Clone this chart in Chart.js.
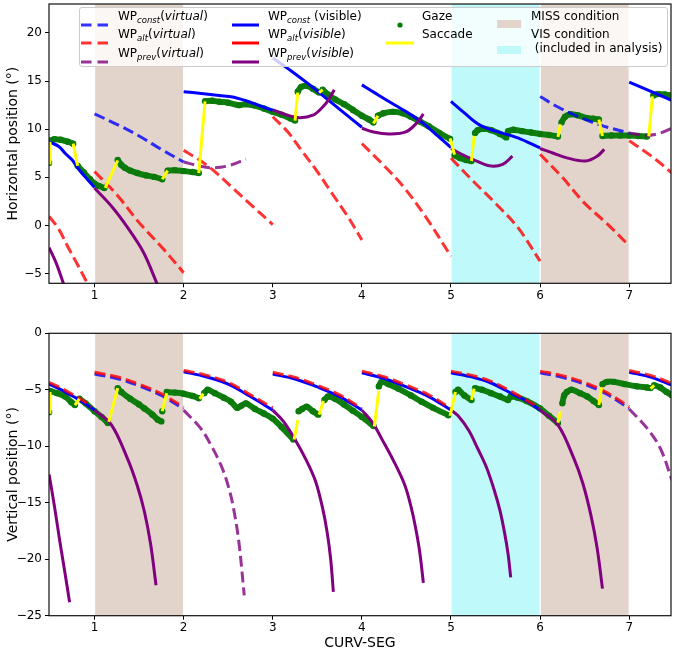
<!DOCTYPE html>
<html>
<head>
<meta charset="utf-8">
<script src="https://cdn.jsdelivr.net/npm/chart.js@4.4.1/dist/chart.umd.min.js"></script>
<style>
  body { margin: 0; background: #fff; width: 675px; height: 650px; overflow: hidden; position: relative;
         font-family: "DejaVu Sans", sans-serif; }
  canvas { position: absolute; left: 0; }
  #legend { position: absolute; left: 0; top: 0; width: 675px; height: 70px; pointer-events: none; }
  .lg-box { position: absolute; left: 79px; top: 6.5px; width: 589px; height: 60px; box-sizing: border-box;
            border: 1px solid #cccccc; border-radius: 3px; background: rgba(255,255,255,0.8); }
  .lg-text { position: absolute; font-size: 12px; line-height: 18px; white-space: pre; color: #000; }
  .lg-text sub { font-size: 8.5px; font-style: italic; vertical-align: -2.5px; line-height: 0; }
  .lg-handle { position: absolute; }
</style>
</head>
<body>
<canvas id="topChart" width="675" height="300" style="top:0"></canvas>
<canvas id="bottomChart" width="675" height="332" style="top:318px"></canvas>
<div id="legend"><div class="lg-box"></div></div>
<script>
// ---- shared axis data ----
const xTicks = [1, 2, 3, 4, 5, 6, 7];
const hTicks = [-5, 0, 5, 10, 15, 20];
const vTicks = [-25, -20, -15, -10, -5, 0];
const missSegs = [[1, 2], [6, 7]];
const visSegs = [[5, 6]];

// ---- horizontal position (top panel), segments of [CURV-SEG, deg] ----
const hConstVisible = [
  [[0.49, 8.7], [0.6, 8.2], [0.67, 7.5], [0.75, 6.8], [0.81, 6.0], [0.9, 5.0], [1.0, 3.95]],
  [[2.0, 13.9], [2.2, 13.7], [2.4, 13.5], [2.55, 13.35], [2.7, 12.95], [2.85, 12.45], [3.0, 11.95]],
  [[3.0, 17.4], [3.2, 16.1], [3.4, 14.7], [3.6, 13.2], [3.8, 11.7], [4.0, 10.2]],
  [[4.0, 14.6], [4.14, 13.8], [4.28, 13.0], [4.5, 11.8], [4.69, 10.6], [4.85, 9.3], [5.0, 8.1]],
  [[5.0, 12.9], [5.15, 11.7], [5.32, 10.45], [5.5, 9.8], [5.75, 9.1], [6.0, 8.05]],
  [[7.0, 14.9], [7.25, 13.9], [7.5, 12.9]]
];
const hConstVirtual = [
  [[1.0, 11.6], [1.25, 10.5], [1.5, 9.3], [1.75, 7.9], [2.0, 6.6]],
  [[6.0, 13.4], [6.2, 12.3], [6.38, 11.5], [6.55, 10.85], [6.72, 10.3], [7.0, 9.6]]
];
const hAltVirtual = [
  [[0.49, 0.95], [0.6, -0.4], [0.7, -2.2], [0.8, -3.9], [0.92, -6.0], [0.95, -6.6]],
  [[1.0, 5.6], [1.25, 3.2], [1.5, 0.3], [1.75, -2.2], [2.0, -4.9]],
  [[2.0, 7.8], [2.17, 6.85], [2.35, 5.6], [2.55, 3.9], [2.75, 2.2], [3.0, 0.1]],
  [[3.0, 11.3], [3.17, 9.7], [3.33, 7.7], [3.5, 5.6], [3.66, 3.4], [3.83, 1.1], [4.0, -1.5]],
  [[4.0, 8.5], [4.24, 6.3], [4.46, 4.1], [4.72, 0.85], [5.0, -3.2]],
  [[5.0, 7.0], [5.25, 4.6], [5.5, 2.3], [5.75, -0.2], [6.0, -3.7]],
  [[6.0, 7.4], [6.25, 5.0], [6.49, 2.4], [6.75, 0.2], [7.0, -2.1]],
  [[7.0, 8.8], [7.25, 7.2], [7.5, 5.3]]
];
const hPrevVisible = [
  [[0.49, -2.3], [0.57, -3.9], [0.65, -6.0], [0.67, -6.6]],
  [[1.0, 3.9], [1.2, 1.9], [1.37, -0.2], [1.55, -2.8], [1.7, -6.0], [1.72, -6.4]],
  [[3.0, 12.0], [3.15, 11.5], [3.3, 11.2], [3.45, 11.45], [3.55, 12.2], [3.63, 13.1], [3.69, 14.1]],
  [[4.0, 10.1], [4.13, 9.7], [4.31, 9.5], [4.5, 9.75], [4.63, 10.8], [4.69, 11.6]],
  [[5.0, 8.0], [5.12, 7.4], [5.25, 6.85], [5.43, 6.2], [5.58, 6.35], [5.69, 7.2]],
  [[6.0, 8.0], [6.15, 7.5], [6.31, 7.0], [6.51, 6.7], [6.64, 7.2], [6.72, 7.9]]
];
const hPrevVirtual = [
  [[2.0, 6.6], [2.17, 6.2], [2.32, 6.0], [2.5, 6.2], [2.7, 6.9]],
  [[7.0, 9.6], [7.2, 9.35], [7.35, 9.6], [7.5, 10.2]]
];
const hGaze = [
  [[0.49, 6.5]],
  [[0.5, 8.8], [0.55, 8.95], [0.62, 8.9], [0.7, 8.7], [0.76, 8.5]],
  [[0.81, 6.2], [0.88, 5.5], [0.95, 4.8], [1.0, 4.35], [1.05, 4.1], [1.11, 3.9]],
  [[1.26, 6.8], [1.3, 6.3], [1.34, 6.0], [1.4, 5.7], [1.48, 5.45], [1.58, 5.2], [1.67, 5.05], [1.76, 4.8]],
  [[1.82, 5.7], [1.9, 5.75], [2.0, 5.65], [2.1, 5.55], [2.17, 5.45]],
  [[2.24, 12.9], [2.32, 12.95], [2.4, 12.85], [2.5, 12.75], [2.62, 12.5], [2.7, 12.6], [2.8, 12.45],
   [2.9, 12.15], [3.0, 11.8], [3.1, 11.5], [3.2, 11.1], [3.25, 10.9]],
  [[3.28, 13.9], [3.32, 14.4], [3.38, 14.5], [3.45, 14.2], [3.52, 13.8]],
  [[3.56, 14.1], [3.62, 13.6], [3.7, 13.1], [3.8, 12.6], [3.9, 12.0], [4.0, 11.4], [4.08, 11.0], [4.13, 10.7]],
  [[4.18, 11.4], [4.24, 11.65], [4.35, 11.8], [4.46, 11.65], [4.55, 11.3], [4.65, 10.8], [4.75, 10.3],
   [4.87, 9.6], [4.99, 9.0]],
  [[5.04, 7.3], [5.1, 7.0], [5.17, 6.8], [5.23, 6.7]],
  [[5.27, 9.6], [5.3, 9.9], [5.37, 10.05], [5.45, 9.9], [5.55, 9.5], [5.62, 9.15]],
  [[5.64, 9.8], [5.7, 9.95], [5.8, 9.8], [5.9, 9.65], [6.0, 9.5], [6.1, 9.4], [6.2, 9.25]],
  [[6.24, 10.7], [6.28, 11.3], [6.34, 11.55], [6.42, 11.45], [6.53, 11.15], [6.6, 11.1], [6.66, 11.0]],
  [[6.7, 9.3], [6.8, 9.35], [6.9, 9.35], [7.0, 9.35], [7.1, 9.3], [7.2, 9.25]],
  [[7.27, 13.5], [7.32, 13.65], [7.4, 13.6], [7.47, 13.5]]
];
const hSaccades = [
  [[0.49, 6.5], [0.5, 8.7]], [[0.76, 8.5], [0.81, 6.2]], [[1.12, 3.9], [1.26, 6.75]],
  [[1.76, 4.8], [1.82, 5.7]], [[2.17, 5.45], [2.24, 12.9]], [[3.25, 10.9], [3.28, 13.8]],
  [[3.52, 13.8], [3.56, 14.1]], [[4.13, 10.6], [4.18, 11.4]], [[4.99, 9.05], [5.04, 7.35]],
  [[5.23, 6.7], [5.26, 9.3]], [[6.2, 9.2], [6.23, 10.5]], [[6.66, 11.0], [6.7, 9.3]],
  [[7.22, 9.25], [7.26, 13.4]]
];

// ---- vertical position (bottom panel) ----
const vConstVisible = [
  [[0.49, -4.5], [0.6, -4.9], [0.74, -5.5], [0.87, -6.1], [1.0, -6.8]],
  [[2.0, -3.4], [2.25, -3.85], [2.5, -4.5], [2.75, -5.6], [3.0, -6.8]],
  [[3.0, -3.6], [3.25, -4.05], [3.5, -4.75], [3.75, -5.6], [4.0, -6.8]],
  [[4.0, -3.5], [4.25, -4.0], [4.5, -4.75], [4.75, -5.6], [5.0, -6.8]],
  [[5.0, -3.5], [5.25, -3.9], [5.45, -4.4], [5.71, -5.45], [5.85, -6.0], [6.0, -6.8]],
  [[7.0, -3.45], [7.25, -3.9], [7.5, -4.65]]
];
const vConstVirtual = [
  [[1.0, -3.6], [1.25, -4.0], [1.5, -4.65], [1.75, -5.5], [2.0, -6.7]],
  [[6.0, -3.5], [6.25, -3.9], [6.53, -4.6], [6.75, -5.4], [7.0, -6.65]]
];
const vAltVirtual = [
  [[0.49, -4.35], [0.6, -4.75], [0.74, -5.35], [0.87, -5.95], [0.97, -6.5]],
  [[1.0, -3.45], [1.25, -3.85], [1.5, -4.5], [1.75, -5.35], [2.0, -6.55]],
  [[2.0, -3.3], [2.25, -3.7], [2.5, -4.35], [2.75, -5.45], [3.0, -6.6]],
  [[3.0, -3.45], [3.25, -3.9], [3.5, -4.6], [3.75, -5.45], [4.0, -6.65]],
  [[4.0, -3.35], [4.25, -3.85], [4.5, -4.6], [4.75, -5.45], [5.0, -6.65]],
  [[5.0, -3.35], [5.25, -3.75], [5.45, -4.25], [5.71, -5.3], [6.0, -6.65]],
  [[6.0, -3.35], [6.25, -3.75], [6.53, -4.45], [6.75, -5.25], [7.0, -6.5]],
  [[7.0, -3.3], [7.25, -3.75], [7.5, -4.5]]
];
const vPrevVisible = [
  [[0.49, -12.5], [0.55, -15.3], [0.61, -18.4], [0.67, -21.3], [0.72, -23.8]],
  [[1.0, -6.8], [1.19, -8.1], [1.37, -11.1], [1.48, -13.5], [1.56, -15.8], [1.63, -18.7], [1.69, -22.3]],
  [[3.0, -6.8], [3.12, -7.8], [3.25, -9.4], [3.38, -11.3], [3.48, -13.1], [3.56, -15.5], [3.61, -17.6],
   [3.65, -20.0], [3.68, -22.9]],
  [[4.0, -6.8], [4.12, -7.9], [4.22, -9.3], [4.35, -11.2], [4.48, -13.4], [4.55, -15.3], [4.6, -17.1],
   [4.65, -19.4], [4.69, -22.1]],
  [[5.0, -6.8], [5.08, -7.3], [5.2, -8.6], [5.3, -10.2], [5.4, -11.9], [5.49, -14.0], [5.55, -15.7],
   [5.6, -17.6], [5.64, -19.5], [5.67, -21.6]],
  [[6.0, -6.8], [6.2, -8.1], [6.38, -11.1], [6.48, -13.3], [6.57, -16.1], [6.64, -19.0], [6.7, -22.6]]
];
const vPrevVirtual = [
  [[2.0, -6.8], [2.19, -8.4], [2.3, -9.8], [2.42, -11.7], [2.5, -13.5], [2.56, -15.5], [2.62, -18.5], [2.68, -23.2]],
  [[7.0, -6.7], [7.2, -8.4], [7.35, -10.2], [7.48, -13.0]]
];
const vGaze = [
  [[0.49, -7.0]],
  [[0.5, -5.1], [0.58, -5.3], [0.67, -5.6], [0.74, -6.1], [0.78, -6.35]],
  [[0.83, -5.8], [0.9, -6.2], [1.0, -6.9], [1.08, -7.4], [1.15, -7.95]],
  [[1.26, -4.85], [1.3, -5.2], [1.4, -5.8], [1.5, -6.3], [1.56, -6.65], [1.65, -7.2], [1.71, -7.65], [1.75, -7.8]],
  [[1.76, -6.9]],
  [[1.81, -5.2], [1.9, -5.25], [2.0, -5.35], [2.1, -5.55], [2.17, -5.75]],
  [[2.23, -5.3], [2.27, -5.0], [2.35, -5.3], [2.45, -5.7], [2.53, -6.05], [2.6, -6.6], [2.65, -6.4], [2.7, -6.2],
   [2.8, -6.7], [2.9, -7.1], [3.0, -7.55], [3.1, -8.3], [3.23, -9.4]],
  [[3.29, -6.9], [3.33, -6.7], [3.38, -6.5], [3.45, -6.9], [3.51, -7.2]],
  [[3.58, -5.9], [3.62, -5.6], [3.7, -5.8], [3.8, -6.3], [3.9, -6.85], [4.0, -7.4], [4.13, -8.2]],
  [[4.19, -4.7], [4.22, -4.3], [4.3, -4.5], [4.41, -4.9], [4.55, -5.5], [4.67, -6.05], [4.8, -6.6], [4.97, -7.25]],
  [[5.05, -5.2], [5.08, -5.0], [5.15, -5.5], [5.23, -5.9]],
  [[5.27, -4.85], [5.35, -5.0], [5.45, -5.3], [5.55, -5.6], [5.64, -5.9], [5.67, -5.6], [5.75, -5.7],
   [5.85, -6.0], [6.0, -6.65], [6.1, -7.3], [6.2, -7.95]],
  [[6.25, -6.2], [6.27, -5.5], [6.3, -5.2], [6.35, -5.0], [6.45, -5.3], [6.53, -5.6], [6.6, -6.0], [6.66, -6.35]],
  [[6.7, -4.5], [6.75, -4.3], [6.83, -4.3], [6.95, -4.5], [7.09, -4.7], [7.2, -4.8], [7.24, -4.85]],
  [[7.28, -4.6], [7.35, -4.8], [7.42, -5.2], [7.48, -5.5]]
];
const vSaccades = [
  [[0.49, -7.0], [0.5, -5.2]], [[0.78, -6.35], [0.83, -5.8]], [[1.16, -7.85], [1.26, -4.85]],
  [[1.76, -6.9], [1.81, -5.3]], [[2.18, -5.8], [2.22, -5.35]], [[3.24, -9.4], [3.28, -7.7]],
  [[3.52, -7.2], [3.57, -6.0]], [[4.14, -8.25], [4.19, -5.1]], [[4.99, -7.3], [5.05, -5.2]],
  [[5.23, -5.9], [5.26, -4.9]], [[6.2, -7.9], [6.23, -6.9]], [[6.66, -6.35], [6.69, -4.8]],
  [[7.24, -4.9], [7.28, -4.6]]
];

Chart.defaults.font.family = "'DejaVu Sans', sans-serif";
Chart.defaults.color = '#000';

const MISS_COLOR = '#e3d4cb';
const VIS_COLOR = '#bff9f9';

// flatten line pieces into one series, breaking the line between pieces
function toPoints(segments) {
  const out = [];
  segments.forEach((seg, i) => {
    if (i > 0) out.push({ x: seg[0][0], y: null });
    seg.forEach(([x, y]) => out.push({ x, y }));
  });
  return out;
}

const spansPlugin = {
  id: 'spans',
  beforeDatasetsDraw(chart) {
    const { ctx, chartArea: a, scales: { x } } = chart;
    ctx.save();
    const paint = (list, color) => list.forEach(([s, e]) => {
      const x0 = x.getPixelForValue(s), x1 = x.getPixelForValue(e);
      ctx.fillStyle = color;
      ctx.fillRect(x0, a.top, x1 - x0, a.bottom - a.top);
      ctx.strokeStyle = '#fff';
      ctx.lineWidth = 1.2;
      ctx.beginPath();
      ctx.moveTo(x0, a.top); ctx.lineTo(x0, a.bottom);
      ctx.moveTo(x1, a.top); ctx.lineTo(x1, a.bottom);
      ctx.stroke();
    });
    paint(missSegs, MISS_COLOR);
    paint(visSegs, VIS_COLOR);
    ctx.restore();
  },
  afterDatasetsDraw(chart) {
    const { ctx, chartArea: a } = chart;
    ctx.save();
    ctx.strokeStyle = '#111';
    ctx.lineWidth = 1.2;
    ctx.strokeRect(a.left, a.top, a.right - a.left, a.bottom - a.top);
    ctx.restore();
  }
};

function wpLine(label, segments, color, dashed, order) {
  return {
    label, data: toPoints(segments), borderColor: color, borderWidth: 3,
    borderDash: dashed ? [11, 5] : [], pointRadius: 0, order,
    tension: 0.35, capBezierPoints: false, clip: 0
  };
}

function panelData(p) {
  return [
    { label: 'Saccade', data: toPoints(p.sacc), borderColor: '#ffff00', borderWidth: 3,
      pointRadius: 0, tension: 0, order: 0, clip: 0 },
    wpLine('WP alt (virtual)', p.altV, 'rgba(255,0,0,0.8)', true, 1),
    wpLine('WP prev (virtual)', p.prevV, 'rgba(128,0,128,0.8)', true, 2),
    wpLine('WP prev (visible)', p.prevS, '#800080', false, 3),
    wpLine('WP const (virtual)', p.constV, 'rgba(0,0,255,0.8)', true, 4),
    wpLine('WP const (visible)', p.constS, '#0000ff', false, 5),
    { label: 'Gaze', data: toPoints(p.gaze), borderColor: '#0f800f', borderWidth: 6,
      pointRadius: 3.2, pointBackgroundColor: '#0b7a0b', pointBorderColor: '#0b7a0b', pointBorderWidth: 0,
      tension: 0.3, capBezierPoints: false, order: 9, clip: 0 }
  ];
}

const minus = v => String(v).replace('-', '\u2212');

function makeChart(id, p) {
  return new Chart(document.getElementById(id), {
    type: 'line',
    data: { datasets: panelData(p) },
    options: {
      responsive: false, animation: false, events: [],
      layout: { padding: { top: p.padTop, right: 1, left: 0, bottom: 0 } },
      plugins: { legend: { display: false }, tooltip: { enabled: false } },
      scales: {
        x: {
          type: 'linear', min: 0.489, max: 7.469,
          afterBuildTicks: s => { s.ticks = xTicks.map(v => ({ value: v })); },
          afterFit: s => { s.height = p.xHeight; s.paddingLeft = 0; s.paddingRight = 0; },
          grid: { drawOnChartArea: false, tickLength: 4, color: '#000', lineWidth: 1 },
          border: { display: false },
          ticks: { font: { size: 12 }, padding: 1, maxRotation: 0, autoSkip: false, callback: minus },
          title: { display: !!p.xTitle, text: p.xTitle, font: { size: 14, lineHeight: 1 }, padding: 0 }
        },
        y: {
          type: 'linear', min: p.yMin, max: p.yMax,
          afterBuildTicks: s => { s.ticks = p.yTicks.map(v => ({ value: v })); },
          afterFit: s => { s.width = 49; s.paddingTop = 0; s.paddingBottom = 0; },
          grid: { drawOnChartArea: false, tickLength: 4, color: '#000', lineWidth: 1 },
          border: { display: false },
          ticks: { font: { size: 12 }, padding: 3, autoSkip: false, callback: minus },
          title: { display: true, text: p.yTitle, font: { size: 14 }, padding: { top: 5, bottom: 0 } }
        }
      }
    },
    plugins: [spansPlugin]
  });
}

makeChart('topChart', {
  constS: hConstVisible, constV: hConstVirtual, altV: hAltVirtual, prevS: hPrevVisible, prevV: hPrevVirtual,
  gaze: hGaze, sacc: hSaccades, yMin: -6, yMax: 23.0, yTicks: hTicks,
  yTitle: 'Horizontal position (°)', xTitle: '', padTop: 1, xHeight: 16.7
});
makeChart('bottomChart', {
  constS: vConstVisible, constV: vConstVirtual, altV: vAltVirtual, prevS: vPrevVisible, prevV: vPrevVirtual,
  gaze: vGaze, sacc: vSaccades, yMin: -25, yMax: 0, yTicks: vTicks,
  yTitle: 'Vertical position (°)', xTitle: 'CURV-SEG', padTop: 15.3, xHeight: 34.3
});

// ---- legend (HTML overlay, matplotlib style) ----
const legendCols = [{ hx: 81, hw: 29, tx: 118 }, { hx: 232, hw: 27, tx: 268 }, { hx: 386, hw: 28, tx: 422 }, { hx: 497, hw: 24, tx: 531 }];
const legendRowsY = [16, 34.3, 52.7];
const legendEntries = [
  { col: 0, row: 0, kind: 'dash', color: 'rgba(0,0,255,0.8)', html: 'WP<sub>const</sub>(<i>virtual</i>)' },
  { col: 0, row: 1, kind: 'dash', color: 'rgba(255,0,0,0.8)', html: 'WP<sub>alt</sub>(<i>virtual</i>)' },
  { col: 0, row: 2, kind: 'dash', color: 'rgba(128,0,128,0.8)', html: 'WP<sub>prev</sub>(<i>virtual</i>)' },
  { col: 1, row: 0, kind: 'line', color: '#0000ff', html: 'WP<sub>const</sub> (visible)' },
  { col: 1, row: 1, kind: 'line', color: '#ff0000', html: 'WP<sub>alt</sub>(<i>visible</i>)' },
  { col: 1, row: 2, kind: 'line', color: '#800080', html: 'WP<sub>prev</sub>(<i>visible</i>)' },
  { col: 2, row: 0, kind: 'dot', color: '#008000', html: 'Gaze' },
  { col: 2, row: 1, kind: 'line', color: '#ffff00', html: 'Saccade' },
  { col: 3, row: 0, kind: 'patch', color: MISS_COLOR, html: 'MISS condition' },
  { col: 3, row: 1, kind: 'patch', color: VIS_COLOR, html: 'VIS condition\n (included in analysis)', twoLine: true }
];
const legendEl = document.getElementById('legend');
legendEntries.forEach(e => {
  const c = legendCols[e.col];
  const y = legendRowsY[e.row];
  const h = document.createElement('div');
  h.className = 'lg-handle';
  let svg;
  if (e.kind === 'dash' || e.kind === 'line') {
    h.style.left = c.hx + 'px'; h.style.top = (y - 3) + 'px';
    const dash = e.kind === 'dash' ? ' stroke-dasharray="10.5 6"' : '';
    svg = `<svg width="${c.hw}" height="6"><line x1="0" y1="3" x2="${c.hw}" y2="3" stroke="${e.color}" stroke-width="3"${dash}/></svg>`;
  } else if (e.kind === 'dot') {
    h.style.left = (c.hx + c.hw / 2 - 3) + 'px'; h.style.top = (y - 3) + 'px';
    svg = `<svg width="6" height="6"><circle cx="3" cy="3" r="2.6" fill="${e.color}"/></svg>`;
  } else {
    const cy = e.twoLine ? y + 8.2 : y + 0.7;
    h.style.left = c.hx + 'px'; h.style.top = (cy - 4) + 'px';
    svg = `<svg width="${c.hw}" height="8"><rect x="0" y="0" width="${c.hw}" height="8" fill="${e.color}"/></svg>`;
  }
  h.innerHTML = svg;
  legendEl.appendChild(h);
  const t = document.createElement('div');
  t.className = 'lg-text';
  t.style.left = c.tx + 'px';
  if (e.twoLine) { t.style.top = (y - 7.15) + 'px'; t.style.lineHeight = '14.3px'; }
  else t.style.top = (y - 9) + 'px';
  t.innerHTML = e.html;
  legendEl.appendChild(t);
});
</script>
</body>
</html>
